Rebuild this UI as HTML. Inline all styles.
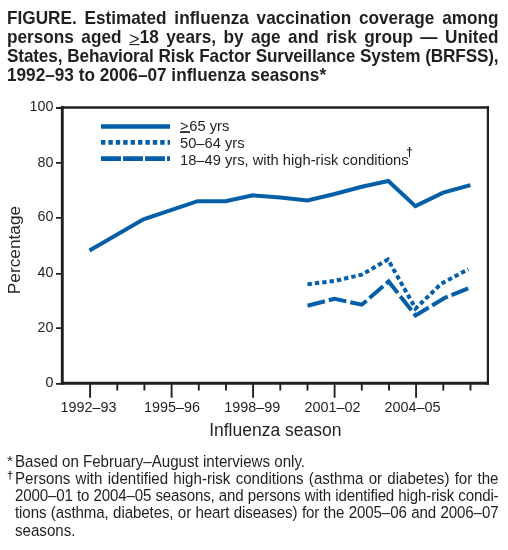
<!DOCTYPE html>
<html><head><meta charset="utf-8">
<style>
html,body{margin:0;padding:0;background:#fff;}
body{width:508px;height:550px;position:relative;overflow:hidden;font-family:"Liberation Sans",sans-serif;color:#231f20;}
.t{position:absolute;left:6.8px;width:491.5px;font-weight:bold;font-size:17.2px;line-height:19px;white-space:nowrap;text-align:justify;text-align-last:justify;will-change:transform;transform:scaleY(1.06);transform-origin:0 15.5px;}
.t.l{text-align:left;text-align-last:left;}
.fn{position:absolute;left:15.0px;width:483.5px;font-size:15.1px;line-height:17px;white-space:nowrap;text-align:justify;text-align-last:justify;will-change:transform;transform:scaleY(1.05);transform-origin:0 13.7px;}
.fn.l{text-align-last:left;}
.mk{position:absolute;left:6.6px;font-size:15.1px;line-height:17px;will-change:transform;}
u{text-decoration:underline;text-underline-offset:1px;}
svg{position:absolute;left:0;top:0;will-change:transform;}
</style></head><body>
<div class="t" style="top:8.5px">FIGURE. Estimated influenza vaccination coverage among</div>
<div class="t" style="top:27.5px">persons aged <u style="font-weight:normal;font-size:18px;text-decoration-thickness:1px;text-underline-offset:-1.2px"><span style="position:relative;top:1.8px;font-size:17.5px;padding:0 0.25px">&gt;</span></u>18 years, by age and risk group — United</div>
<div class="t" style="top:46.5px;letter-spacing:-0.15px">States, Behavioral Risk Factor Surveillance System (BRFSS),</div>
<div class="t l" style="top:65.5px">1992–93 to 2006–07 influenza seasons*</div>

<svg width="508" height="550" viewBox="0 0 508 550">
  <g stroke="#231f20" fill="none">
    <path stroke-width="2.6" d="M60.85 107.5 H489"/><path stroke-width="2.9" d="M60.85 383.3 H489"/><path stroke-width="2.9" d="M62.3 106 V384.75"/><path stroke-width="2.2" d="M487.9 106 V384.75"/>
    <path stroke-width="1.8" d="M56 108.0H62 M56 162.9H62 M56 217.9H62 M56 273.9H62 M56 328.1H62 M56 383.9H62"/>
    <path stroke-width="1.9" d="M90.1 383V397.7 M171.6 383V397.7 M253.1 383V397.7 M334.6 383V397.7 M416.1 383V397.7 M117.3 383V390.6 M144.4 383V390.6 M198.8 383V390.6 M226.0 383V390.6 M280.3 383V390.6 M307.5 383V390.6 M361.8 383V390.6 M389.0 383V390.6 M443.3 383V390.6 M470.5 383V390.6"/>
  </g>
  <g font-family="Liberation Sans" font-size="14.3" fill="#231f20" text-anchor="end">
    <text x="53.4" y="111.2">100</text>
    <text x="53.4" y="166.8">80</text>
    <text x="53.4" y="221.1">60</text>
    <text x="53.4" y="277.4">40</text>
    <text x="53.4" y="332.1">20</text>
    <text x="53.4" y="387.0">0</text>
  </g>
  <g font-family="Liberation Sans" font-size="14.4" fill="#231f20" text-anchor="middle">
    <text x="88.4" y="412">1992–93</text>
    <text x="171.9" y="412">1995–96</text>
    <text x="252.3" y="412">1998–99</text>
    <text x="332.5" y="412">2001–02</text>
    <text x="412.5" y="412">2004–05</text>
  </g>
  <text x="275.3" y="435.7" font-family="Liberation Sans" font-size="17.5" fill="#231f20" text-anchor="middle">Influenza season</text>
  <text transform="translate(20.2 250) rotate(-90)" font-family="Liberation Sans" font-size="17.3" fill="#231f20" text-anchor="middle">Percentage</text>

  <g stroke="#045ea8" stroke-width="4" fill="none" stroke-linejoin="miter">
    <path d="M89.5 250.6 L143.5 219.3 L197.6 201.2 L225.5 201.2 L252.9 195.3 L280.2 197.6 L307.5 200.4 L334.6 194.0 L361.8 186.7 L388.3 181.0 L415.4 206.1 L443.2 192.6 L470.4 185.1"/>
    <path stroke-dasharray="4.4 3" d="M307.5 284.2 L334.6 281 L361.8 274.6 L388 259.6 L415.6 308.5 L441.5 283.5 L468.3 269.3"/>
    <path stroke-dasharray="18 4" d="M307.5 305.7 L334.6 298.8 L361.8 304.7 L388.6 281.5 L415.6 315.5 L444.5 298 L470.5 287.4"/>
    <path stroke-width="4.5" d="M101 126.45 H170"/>
    <path stroke-width="4.6" stroke-dasharray="4.4 3" d="M101 142.4 H170"/>
    <path stroke-width="4.6" stroke-dasharray="20 2" d="M101 158.6 H170"/>
  </g>
  <g font-family="Liberation Sans" font-size="14.7" fill="#231f20">
    <text x="180" y="131">&gt;<tspan dx="0.7">65 yrs</tspan></text>
    <rect x="180.1" y="131.2" width="9.9" height="1.7"/>
    <text x="180" y="148.2">50–64 yrs</text>
    <text x="180" y="165.2">18–49 yrs, with high-risk conditions<tspan font-size="12.5" font-weight="bold" dx="-2.6" dy="-8.8">†</tspan></text>
  </g>
</svg>

<div class="mk" style="top:452.3px;left:7.1px">*</div>
<div class="fn l" style="top:452.8px">Based on February–August interviews only.</div>
<div class="mk" style="top:467.1px;left:6.9px;font-size:11px;font-weight:bold">†</div>
<div class="fn" style="top:469.8px">Persons with identified high-risk conditions (asthma or diabetes) for the</div>
<div class="fn" style="top:486.7px;letter-spacing:-0.15px">2000–01 to 2004–05 seasons, and persons with identified high-risk condi-</div>
<div class="fn" style="top:504.1px;letter-spacing:-0.1px">tions (asthma, diabetes, or heart diseases) for the 2005–06 and 2006–07</div>
<div class="fn l" style="top:522.1px">seasons.</div>
</body></html>
